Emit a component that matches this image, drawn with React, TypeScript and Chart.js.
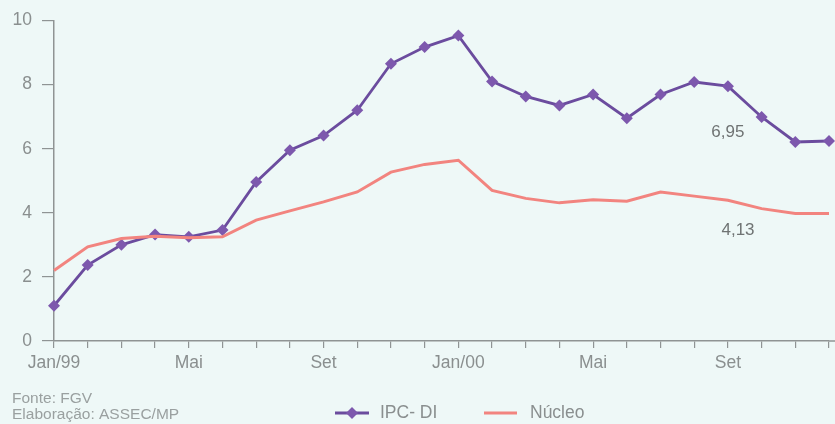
import React, { useEffect, useRef } from "react";
import { Chart, registerables } from "chart.js";

Chart.register(...registerables);

const categories = [
  "Jan/99", "Fev/99", "Mar/99", "Abr/99", "Mai/99", "Jun/99", "Jul/99", "Ago/99", "Set/99", "Out/99", "Nov/99", "Dez/99",
  "Jan/00", "Fev/00", "Mar/00", "Abr/00", "Mai/00", "Jun/00", "Jul/00", "Ago/00", "Set/00", "Out/00", "Nov/00", "Dez/00",
];
const tickLabels = [
  "Jan/99", "", "", "", "Mai", "", "", "", "Set", "", "", "",
  "Jan/00", "", "", "", "Mai", "", "", "", "Set", "", "", "",
];
const ipcDi = [
  1.1, 2.37, 3.0, 3.32, 3.25, 3.46, 4.96, 5.95, 6.41, 7.2, 8.65, 9.17,
  9.53, 8.1, 7.63, 7.35, 7.69, 6.95, 7.69, 8.08, 7.95, 6.99, 6.21, 6.24,
];
const nucleo = [
  2.2, 2.94, 3.2, 3.27, 3.22, 3.25, 3.77, 4.06, 4.34, 4.65, 5.27, 5.51,
  5.64, 4.7, 4.45, 4.31, 4.41, 4.36, 4.65, 4.52, 4.39, 4.13, 3.98, 3.98,
];
const annotations = [
  { text: "6,95", index: 20, value: 6.5 },
  { text: "4,13", index: 20.3, value: 3.45 },
];
const sourceLines = ["Fonte: FGV", "Elaboração: ASSEC/MP"];
const legendLabels = ["IPC- DI", "Núcleo"];

const PURPLE = "#6b4c9e";
const MARKER = "#7d58ad";
const SALMON = "#f2847f";
const AXIS = "#8f9494";
const TEXT = "#8a8f8f";
const FONT = "'Liberation Sans', Arial, sans-serif";

const overlay = {
  id: "overlay",
  afterDraw(chart: any) {
    const ctx = chart.ctx;
    const xs = chart.scales.x;
    const ys = chart.scales.y;
    ctx.save();
    ctx.strokeStyle = AXIS;
    ctx.lineWidth = 1.5;
    ctx.beginPath();
    ctx.moveTo(xs.right, ys.bottom);
    ctx.lineTo(chart.width, ys.bottom);
    ctx.stroke();
    ctx.fillStyle = "#6f7373";
    ctx.font = `17px ${FONT}`;
    ctx.textAlign = "center";
    ctx.textBaseline = "middle";
    for (const a of annotations) {
      const x = xs.left + (xs.right - xs.left) * (a.index / (categories.length - 1));
      ctx.fillText(a.text, x, ys.getPixelForValue(a.value));
    }
    ctx.fillStyle = "#9aa0a0";
    ctx.font = `15.5px ${FONT}`;
    ctx.textAlign = "left";
    ctx.fillText(sourceLines[0], 12, 399);
    ctx.fillText(sourceLines[1], 12, 415);
    const ly = 413;
    ctx.lineWidth = 2.8;
    ctx.strokeStyle = PURPLE;
    ctx.beginPath();
    ctx.moveTo(335, ly);
    ctx.lineTo(369, ly);
    ctx.stroke();
    ctx.fillStyle = MARKER;
    ctx.beginPath();
    ctx.moveTo(352, ly - 6);
    ctx.lineTo(358, ly);
    ctx.lineTo(352, ly + 6);
    ctx.lineTo(346, ly);
    ctx.closePath();
    ctx.fill();
    ctx.strokeStyle = SALMON;
    ctx.beginPath();
    ctx.moveTo(484, ly);
    ctx.lineTo(517, ly);
    ctx.stroke();
    ctx.fillStyle = TEXT;
    ctx.font = `17.5px ${FONT}`;
    ctx.fillText(legendLabels[0], 380, ly);
    ctx.fillText(legendLabels[1], 530, ly);
    ctx.restore();
  },
};

export default function App() {
  const ref = useRef<HTMLCanvasElement>(null);
  useEffect(() => {
    if (!ref.current) return;
    const chart = new Chart(ref.current, {
      type: "line",
      data: {
        labels: categories,
        datasets: [
          {
            label: "Núcleo",
            data: nucleo,
            borderColor: SALMON,
            borderWidth: 3,
            pointRadius: 0,
            tension: 0,
            clip: false as any,
          },
          {
            label: "IPC- DI",
            data: ipcDi,
            borderColor: PURPLE,
            borderWidth: 2.8,
            pointStyle: "rectRot",
            pointRadius: 6,
            pointBackgroundColor: MARKER,
            pointBorderColor: MARKER,
            pointBorderWidth: 0,
            tension: 0,
            clip: false as any,
          },
        ],
      },
      options: {
        animation: false,
        responsive: false,
        maintainAspectRatio: false,
        layout: { padding: { top: 20, right: -3, bottom: 0, left: 0 } },
        plugins: { legend: { display: false }, tooltip: { enabled: false } },
        scales: {
          x: {
            type: "category",
            offset: false,
            border: { color: AXIS, width: 1.5 },
            grid: { drawOnChartArea: false, drawTicks: true, tickLength: 7, color: AXIS, lineWidth: 1.2 },
            ticks: {
              autoSkip: false,
              maxRotation: 0,
              padding: 5,
              color: TEXT,
              font: { family: FONT, size: 17.5 },
              callback: (_v: any, i: number) => tickLabels[i],
            },
            afterFit: (s: any) => {
              s.height = 83;
            },
          },
          y: {
            min: 0,
            max: 10,
            border: { color: AXIS, width: 1.5 },
            grid: { drawOnChartArea: false, drawTicks: true, tickLength: 12, color: AXIS, lineWidth: 1.2 },
            ticks: {
              stepSize: 2,
              padding: 10,
              color: TEXT,
              font: { family: FONT, size: 17.5 },
            },
            afterFit: (s: any) => {
              s.width = 54;
            },
          },
        },
      },
      plugins: [overlay],
    });
    return () => chart.destroy();
  }, []);
  return (
    <div style={{ position: "fixed", left: 0, top: 0, width: 835, height: 424, background: "#eef8f7" }}>
      <canvas ref={ref} width={835} height={424} style={{ display: "block" }} />
    </div>
  );
}
